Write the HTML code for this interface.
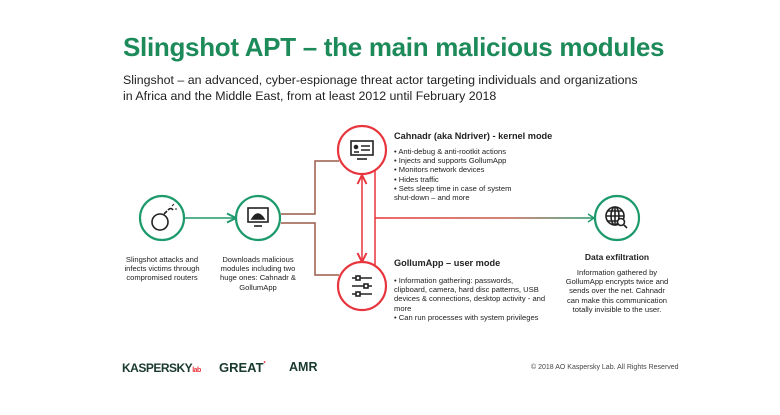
<!DOCTYPE html>
<html><head><meta charset="utf-8"><style>
body{margin:0;width:780px;height:415px;background:#fff;position:relative;overflow:hidden;font-family:"Liberation Sans",sans-serif;color:#222}
.a{position:absolute}
h1{position:absolute;left:123px;top:32px;margin:0;font-size:26px;color:#1d8a5a;font-weight:bold;letter-spacing:-0.3px;white-space:nowrap}
.sub{left:123px;top:72px;font-size:12.4px;line-height:16px;color:#222;white-space:nowrap}
.c{font-size:7.6px;line-height:9.2px;text-align:center;white-space:nowrap}
.l{font-size:7.6px;line-height:9.2px;white-space:nowrap}
.b{font-weight:bold;font-size:9.2px;white-space:nowrap}
</style></head><body>
<h1>Slingshot APT – the main malicious modules</h1>
<div class="a sub">Slingshot – an advanced, cyber-espionage threat actor targeting individuals and organizations<br>in Africa and the Middle East, from at least 2012 until February 2018</div>
<svg class="a" style="left:0;top:0" width="780" height="415">
<defs><marker id="g" markerWidth="8" markerHeight="8" refX="7" refY="4" orient="auto"><path d="M1,1 L7,4 L1,7" fill="none" stroke="#1d9a6c" stroke-width="1.3"/></marker>
<marker id="r" markerWidth="8" markerHeight="8" refX="7" refY="4" orient="auto-start-reverse"><path d="M1,1 L7,4 L1,7" fill="none" stroke="#e8343c" stroke-width="1.3"/></marker>
<linearGradient id="rg" gradientUnits="userSpaceOnUse" x1="375" y1="0" x2="595" y2="0"><stop offset="0" stop-color="#e8343c"/><stop offset="0.6" stop-color="#c45a4a"/><stop offset="1" stop-color="#1d9a6c"/></linearGradient></defs>
<line x1="185" y1="218" x2="236" y2="218" stroke="#1d9a6c" stroke-width="1.5" marker-end="url(#g)"/>
<path d="M281,214 H315 V161 H339" fill="none" stroke="#9a5a48" stroke-width="1.5"/>
<path d="M281,223 H315 V275 H339" fill="none" stroke="#9a5a48" stroke-width="1.5"/>
<line x1="362" y1="175" x2="362" y2="262" stroke="#e8343c" stroke-width="1.5" marker-start="url(#r)" marker-end="url(#r)"/>
<path d="M375,170 V267" fill="none" stroke="#e8343c" stroke-width="1.5"/>
<path d="M375,218 H593" fill="none" stroke="url(#rg)" stroke-width="1.5"/>
<path d="M588,214 L594,218 L588,222" fill="none" stroke="#1d9a6c" stroke-width="1.5"/>
<g fill="#fff" stroke-width="2.2">
<circle cx="162" cy="218" r="22" stroke="#1d9a6c"/>
<circle cx="258" cy="218" r="22" stroke="#1d9a6c"/>
<circle cx="362" cy="150" r="24" stroke="#e8343c"/>
<circle cx="362" cy="286" r="24" stroke="#e8343c"/>
<circle cx="617" cy="218" r="22" stroke="#1d9a6c"/>
</g>
<g stroke="#222" stroke-width="1.6" fill="none">
<circle cx="160" cy="222" r="8"/><path d="M164,214 l3,-3 M168,210 q3,-3 5,0"/><path d="M172,206 l2,-2 M175,209 l2,0" stroke-width="1"/>
<rect x="248" y="208" width="20" height="14"/><path d="M254,226 h8"/><path d="M252,219 q6,-10 12,0z" fill="#222"/>
<rect x="351" y="141" width="22" height="14"/><path d="M357,159 h10"/><circle cx="356" cy="147" r="1.5" fill="#222"/><path d="M354,152 h5 M361,146 h9 M361,150 h9"/>
<path d="M352,278 h20 M352,286 h20 M352,294 h20"/><rect x="356" y="276" width="4" height="4" fill="#fff"/><rect x="364" y="284" width="4" height="4" fill="#fff"/><rect x="356" y="292" width="4" height="4" fill="#fff"/>
<circle cx="615" cy="216" r="9"/><path d="M606,216 h18 M615,207 v18 M608,211 h14 M608,221 h14"/><ellipse cx="615" cy="216" rx="4" ry="9"/><circle cx="621" cy="222" r="3.5" fill="#fff"/><path d="M624,225 l3,3"/>
</g>
</svg>
<div class="a c" style="left:112px;top:255px;width:100px">Slingshot attacks and<br>infects victims through<br>compromised routers</div>
<div class="a c" style="left:203px;top:255px;width:110px">Downloads malicious<br>modules including two<br>huge ones: Cahnadr &amp;<br>GollumApp</div>
<div class="a b" style="left:394px;top:131px">Cahnadr (aka Ndriver) - kernel mode</div>
<div class="a l" style="left:394px;top:147px">• Anti-debug &amp; anti-rootkit actions<br>• Injects and supports GollumApp<br>• Monitors network devices<br>• Hides traffic<br>• Sets sleep time in case of system<br>shut-down – and more</div>
<div class="a b" style="left:394px;top:258px">GollumApp – user mode</div>
<div class="a l" style="left:394px;top:276px">• Information gathering: passwords,<br>clipboard, camera, hard disc patterns, USB<br>devices &amp; connections, desktop activity - and<br>more<br>• Can run processes with system privileges</div>
<div class="a b" style="left:557px;top:252px;width:120px;text-align:center;font-size:8.5px">Data exfiltration</div>
<div class="a c" style="left:557px;top:268px;width:120px">Information gathered by<br>GollumApp encrypts twice and<br>sends over the net. Cahnadr<br>can make this communication<br>totally invisible to the user.</div>
<div class="a" style="left:122px;top:361px;font-size:12px;font-weight:bold;color:#1a3a30;letter-spacing:-0.5px">KASPERSKY<span style="color:#e8343c;font-size:7px">lab</span></div>
<div class="a" style="left:219px;top:360px;font-size:13px;font-weight:bold;color:#1a3a30">GREAT<span style="color:#e8343c;font-size:6px;vertical-align:top">•</span></div>
<div class="a" style="left:289px;top:360px;font-size:12.5px;font-weight:bold;color:#1a3a30">AMR</div>
<div class="a" style="left:531px;top:364px;font-size:7px;color:#444;white-space:nowrap">© 2018 AO Kaspersky Lab. All Rights Reserved</div>
</body></html>
